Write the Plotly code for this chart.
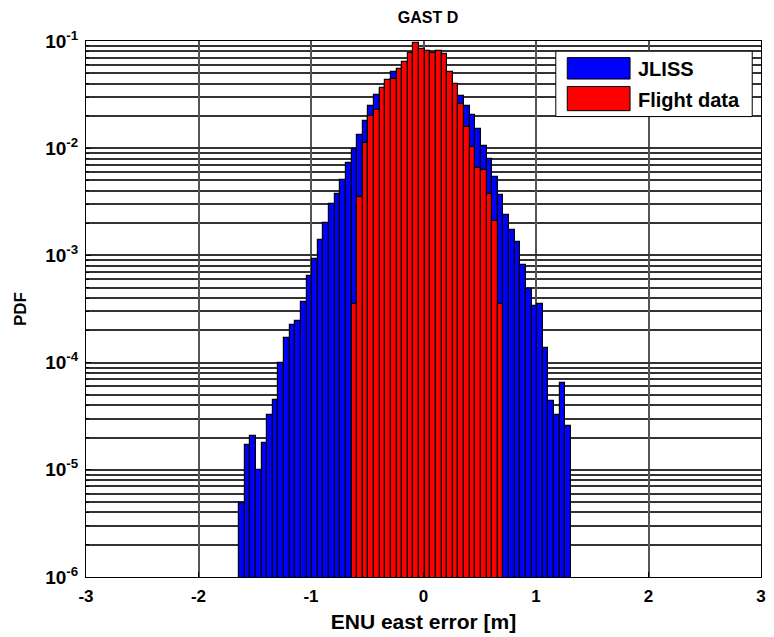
import plotly.graph_objects as go

# Histogram bin centres [m] (bin width 0.05 m)
bin_centers = [
    -1.615, -1.565, -1.515, -1.465, -1.415, -1.365, -1.315, -1.265, -1.215, -1.165,
    -1.115, -1.065, -1.015, -0.965, -0.915, -0.865, -0.815, -0.765, -0.715, -0.665,
    -0.615, -0.565, -0.515, -0.465, -0.415, -0.365, -0.315, -0.265, -0.215, -0.165,
    -0.115, -0.065, -0.015, 0.035, 0.085, 0.135, 0.185, 0.235, 0.285, 0.335,
    0.385, 0.435, 0.485, 0.535, 0.585, 0.635, 0.685, 0.735, 0.785, 0.835,
    0.885, 0.935, 0.985, 1.035, 1.085, 1.135, 1.185, 1.235, 1.285,
]
bin_width = 0.05

# JLISS simulated PDF per bin
jliss_pdf = [
    4.89e-6, 1.69e-5, 2.06e-5, 1.00e-5, 1.79e-5, 3.27e-5, 4.48e-5, 9.85e-5, 1.69e-4, 2.25e-4,
    2.43e-4, 3.64e-4, 6.46e-4, 9.31e-4, 1.40e-3, 2.00e-3, 3.00e-3, 3.72e-3, 5.10e-3, 7.29e-3,
    9.85e-3, 1.34e-2, 1.79e-2, 2.47e-2, 3.11e-2, 3.50e-2, 4.00e-2, 5.10e-2, 5.30e-2, 5.80e-2,
    6.20e-2, 6.40e-2, 6.50e-2, 6.40e-2, 6.20e-2, 5.80e-2, 5.30e-2, 4.60e-2, 3.80e-2, 3.08e-2,
    2.45e-2, 2.03e-2, 1.51e-2, 1.04e-2, 7.89e-3, 5.40e-3, 3.69e-3, 2.40e-3, 1.71e-3, 1.32e-3,
    8.07e-4, 4.81e-4, 3.34e-4, 3.54e-4, 1.37e-4, 4.34e-5, 3.27e-5, 6.47e-5, 2.58e-5,
]

# Flight data PDF (bins -0.615 .. 0.685)
flight_centers = bin_centers[20:47]
flight_pdf = [
    3.54e-4, 3.51e-3, 1.11e-2, 1.99e-2, 2.26e-2, 3.64e-2, 4.35e-2, 4.39e-2, 5.44e-2, 6.37e-2,
    7.78e-2, 9.52e-2, 8.47e-2, 8.15e-2, 7.78e-2, 8.03e-2, 7.56e-2, 5.16e-2, 3.96e-2, 2.59e-2,
    1.58e-2, 1.02e-2, 6.55e-3, 6.32e-3, 3.72e-3, 2.08e-3, 3.52e-4,
]

x_ticks = [-3, -2, -1, 0, 1, 2, 3]
x_tick_text = ["-3", "-2", "-1", "0", "1", "2", "3"]
y_ticks = [1e-6, 1e-5, 1e-4, 1e-3, 1e-2, 1e-1]
y_tick_text = ["10<sup>-6</sup>", "10<sup>-5</sup>", "10<sup>-4</sup>",
               "10<sup>-3</sup>", "10<sup>-2</sup>", "10<sup>-1</sup>"]
y_minor = [m * 10.0 ** e for e in range(-6, -1) for m in range(2, 10)]

FONT = "Liberation Sans, Arial, sans-serif"
GRID = "#333333"

fig = go.Figure()
fig.add_trace(go.Bar(
    x=bin_centers, y=jliss_pdf, width=bin_width, name="JLISS",
    marker=dict(color="#0000ff", line=dict(color="black", width=1.2)),
))
fig.add_trace(go.Bar(
    x=flight_centers, y=flight_pdf, width=bin_width, name="Flight data",
    marker=dict(color="#ff0000", line=dict(color="black", width=1.2)),
))

fig.update_layout(
    width=774, height=637,
    margin=dict(l=86, r=8, t=41, b=60),
    paper_bgcolor="white", plot_bgcolor="white",
    barmode="overlay", bargap=0,
    showlegend=False,
    font=dict(family=FONT, color="black"),
    title=dict(text="GAST D", x=0.553, xanchor="center", y=0.973, yanchor="middle",
               font=dict(family=FONT, size=16, weight="bold", color="black")),
    xaxis=dict(
        range=[-3, 3], tickmode="array", tickvals=x_ticks, ticktext=x_tick_text,
        ticks="inside", ticklen=5, tickcolor="black", ticklabelstandoff=4,
        showgrid=True, gridcolor="#555555", gridwidth=1.5,
        zeroline=False, showline=True, linecolor="black", linewidth=1, mirror=True,
        tickfont=dict(family=FONT, size=17, weight="bold"),
        title=dict(text="ENU east error [m]", standoff=8,
                   font=dict(family=FONT, size=21, weight="bold")),
    ),
    yaxis=dict(
        type="log", range=[-6, -1], tickmode="array", tickvals=y_ticks, ticktext=y_tick_text,
        ticks="inside", ticklen=5, tickcolor="black", ticklabelstandoff=3,
        showgrid=True, gridcolor=GRID, gridwidth=1.5,
        minor=dict(tickmode="array", tickvals=y_minor, showgrid=True, gridcolor=GRID,
                   gridwidth=1.5, ticks="inside", ticklen=3, tickcolor="black"),
        zeroline=False, showline=True, linecolor="black", linewidth=1, mirror=True,
        tickfont=dict(family=FONT, size=19, weight="bold"),
        title=dict(text="PDF", standoff=14,
                   font=dict(family=FONT, size=17, weight="bold")),
    ),
)

# Legend box with patches the width of the bar legend entries
fig.add_shape(type="rect", xref="paper", yref="paper", x0=0.696, x1=0.987, y0=0.859, y1=0.981,
              fillcolor="white", line=dict(color="black", width=1), layer="above")
fig.add_shape(type="rect", xref="paper", yref="paper", x0=0.713, x1=0.806, y0=0.929, y1=0.969,
              fillcolor="#0000ff", line=dict(color="black", width=1), layer="above")
fig.add_shape(type="rect", xref="paper", yref="paper", x0=0.713, x1=0.806, y0=0.870, y1=0.915,
              fillcolor="#ff0000", line=dict(color="black", width=1), layer="above")
fig.add_annotation(xref="paper", yref="paper", x=0.815, y=0.948, xanchor="left", yanchor="middle",
                   text="JLISS", showarrow=False,
                   font=dict(family=FONT, size=20, weight="bold", color="black"))
fig.add_annotation(xref="paper", yref="paper", x=0.815, y=0.890, xanchor="left", yanchor="middle",
                   text="Flight data", showarrow=False,
                   font=dict(family=FONT, size=20, weight="bold", color="black"))

fig.write_html("out.html")
